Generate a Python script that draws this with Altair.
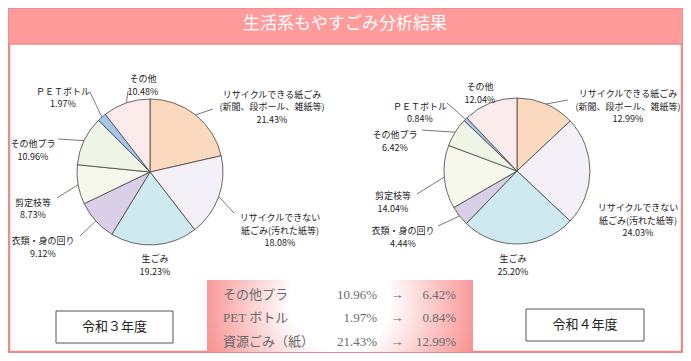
import math
import altair as alt
import pandas as pd

# ---------------- data ----------------
categories = ["リサイクルできる紙ごみ", "リサイクルできない紙ごみ", "生ごみ", "衣類・身の回り",
              "剪定枝等", "その他プラ", "PETボトル", "その他"]
label_names = ["リサイクルできる紙ごみ\n(新聞、段ボール、雑紙等)", "リサイクルできない\n紙ごみ(汚れた紙等)",
               "生ごみ", "衣類・身の回り", "剪定枝等", "その他プラ", "ＰＥＴボトル", "その他"]
values_r3 = [21.43, 18.08, 19.23, 9.12, 8.73, 10.96, 1.97, 10.48]
values_r4 = [12.99, 24.03, 25.20, 4.44, 14.04, 6.42, 0.84, 12.04]
title_text = "生活系もやすごみ分析結果"
year_labels = ["令和３年度", "令和４年度"]
compare_names = ["その他プラ", "PET ボトル", "資源ごみ（紙）"]
compare_index = [5, 6, 0]

# ---------------- styles / layout ----------------
colors = ["#FBD9BE", "#F4F0F8", "#CFE9F1", "#D9CFE8", "#F6F8EC", "#EEF5E5", "#A6C6EC", "#FBEBEB"]
W, H = 675, 345
xs = alt.Scale(domain=[8, 683], nice=False, zero=False)
ys = alt.Scale(domain=[8, 353], nice=False, zero=False, reverse=True)
R = 73
pie_centers = [(150, 172), (517, 171)]
label_pos = [
    [(272, 94.5), (280, 218), (155, 259), (43, 241), (33, 202.5), (33, 144), (63, 91.5), (143, 79)],
    [(628, 94), (638, 208), (513, 259), (403, 231), (393, 196), (395, 135), (420, 106.5), (480, 87)],
]
leader_end = [
    [(213, 109), (234, 213), None, (80, 236), (57, 198), (58, 139), (90, 92), (128, 91)],
    [(568, 100), None, None, (438, 226), (417, 194), (422, 130), (447, 103), None],
]
FONT = "Noto Sans CJK JP"
SERIF = "Liberation Serif, Noto Sans CJK JP"


def X(f):
    return alt.X(f, type="quantitative", scale=xs, axis=None)


def Y(f):
    return alt.Y(f, type="quantitative", scale=ys, axis=None)


layers = []

# frame and banner
frame_df = pd.DataFrame({"x": [9], "x2": [682], "y": [9], "y2": [352]})
layers.append(alt.Chart(frame_df).mark_rect(fill="white", stroke="#F08A8A", strokeWidth=2.5).encode(
    x=X("x"), x2="x2", y=Y("y"), y2="y2"))
banner_df = pd.DataFrame({"x": [8], "x2": [683], "y": [8], "y2": [44]})
layers.append(alt.Chart(banner_df).mark_rect(fill="#FF9B9B", stroke="#F08A8A", strokeWidth=1.5).encode(
    x=X("x"), x2="x2", y=Y("y"), y2="y2"))
title_df = pd.DataFrame({"x": [345], "y": [24], "t": [title_text]})
layers.append(alt.Chart(title_df).mark_text(font=FONT, fontSize=17, color="white").encode(
    x=X("x"), y=Y("y"), text="t:N"))

# pies
for p, vals in enumerate([values_r3, values_r4]):
    cx, cy = pie_centers[p]
    df = pd.DataFrame({"cat": categories, "value": vals, "order": list(range(len(vals)))})
    layers.append(alt.Chart(df).mark_arc(outerRadius=R, stroke="#444444", strokeWidth=0.8).encode(
        x=alt.XDatum(cx, scale=xs, axis=None),
        y=alt.YDatum(cy, scale=ys, axis=None),
        theta=alt.Theta("value:Q", stack=True),
        order=alt.Order("order:Q"),
        color=alt.Color("cat:N", scale=alt.Scale(domain=categories, range=colors), legend=None),
    ))

# labels and leader lines
lab_rows, lead_rows = [], []
for p, vals in enumerate([values_r3, values_r4]):
    cx, cy = pie_centers[p]
    total = sum(vals)
    cum = 0.0
    for i, v in enumerate(vals):
        mid = (cum + v / 2) / total * 2 * math.pi
        cum += v
        lx, ly = label_pos[p][i]
        lab_rows.append({"x": lx, "y": ly, "t": f"{label_names[i]}\n{v:.2f}%"})
        end = leader_end[p][i]
        if end is not None:
            lead_rows.append({"x": cx + R * math.sin(mid), "y": cy - R * math.cos(mid),
                              "x2": end[0], "y2": end[1]})
layers.append(alt.Chart(pd.DataFrame(lead_rows)).mark_rule(color="#555555", strokeWidth=0.8).encode(
    x=X("x"), y=Y("y"), x2="x2", y2="y2"))
layers.append(alt.Chart(pd.DataFrame(lab_rows)).mark_text(
    font=FONT, fontSize=9, lineHeight=12.5, lineBreak="\n", color="#222222", baseline="middle").encode(
    x=X("x"), y=Y("y"), text="t:N"))

# year boxes
ybox_df = pd.DataFrame({"x": [56, 526], "x2": [173, 644], "y": [311, 309], "y2": [343, 341],
                        "tx": [114.5, 585], "ty": [327, 325], "t": year_labels})
layers.append(alt.Chart(ybox_df).mark_rect(fill="white", stroke="#555555", strokeWidth=1).encode(
    x=X("x"), x2="x2", y=Y("y"), y2="y2"))
layers.append(alt.Chart(ybox_df).mark_text(font=FONT, fontSize=13, color="#222222").encode(
    x=X("tx"), y=Y("ty"), text="t:N"))

# comparison box
cbox_df = pd.DataFrame({"x": [207], "x2": [473], "y": [280], "y2": [352]})
grad = {"gradient": "radial", "x1": 0.5, "y1": 0.45, "r1": 0, "x2": 0.5, "y2": 0.45, "r2": 0.62,
        "stops": [{"offset": 0, "color": "#FFFFFF"}, {"offset": 0.3, "color": "#FFFFFF"},
                  {"offset": 1, "color": "#F67474"}]}
layers.append(alt.Chart(cbox_df).mark_rect(fill=grad).encode(x=X("x"), x2="x2", y=Y("y"), y2="y2"))
rows_y = [295, 318, 342]
cmp_df = pd.DataFrame({
    "name": compare_names,
    "a": [f"{values_r3[i]:.2f}%" for i in compare_index],
    "b": [f"{values_r4[i]:.2f}%" for i in compare_index],
    "arrow": ["→"] * 3,
    "y": rows_y, "xn": [223] * 3, "xa": [377] * 3, "xr": [397] * 3, "xb": [456] * 3,
})
tstyle = dict(font=SERIF, fontSize=13, color="#6A6A6A", baseline="middle")
layers.append(alt.Chart(cmp_df).mark_text(align="left", **tstyle).encode(x=X("xn"), y=Y("y"), text="name:N"))
layers.append(alt.Chart(cmp_df).mark_text(align="right", **tstyle).encode(x=X("xa"), y=Y("y"), text="a:N"))
layers.append(alt.Chart(cmp_df).mark_text(align="center", **tstyle).encode(x=X("xr"), y=Y("y"), text="arrow:N"))
layers.append(alt.Chart(cmp_df).mark_text(align="right", **tstyle).encode(x=X("xb"), y=Y("y"), text="b:N"))

chart = alt.layer(*layers).resolve_scale(theta="independent").properties(
    width=W, height=H, autosize="none", padding=0
).configure_view(strokeWidth=0)

chart.save("out.html", embed_options={"renderer": "svg", "actions": False})
